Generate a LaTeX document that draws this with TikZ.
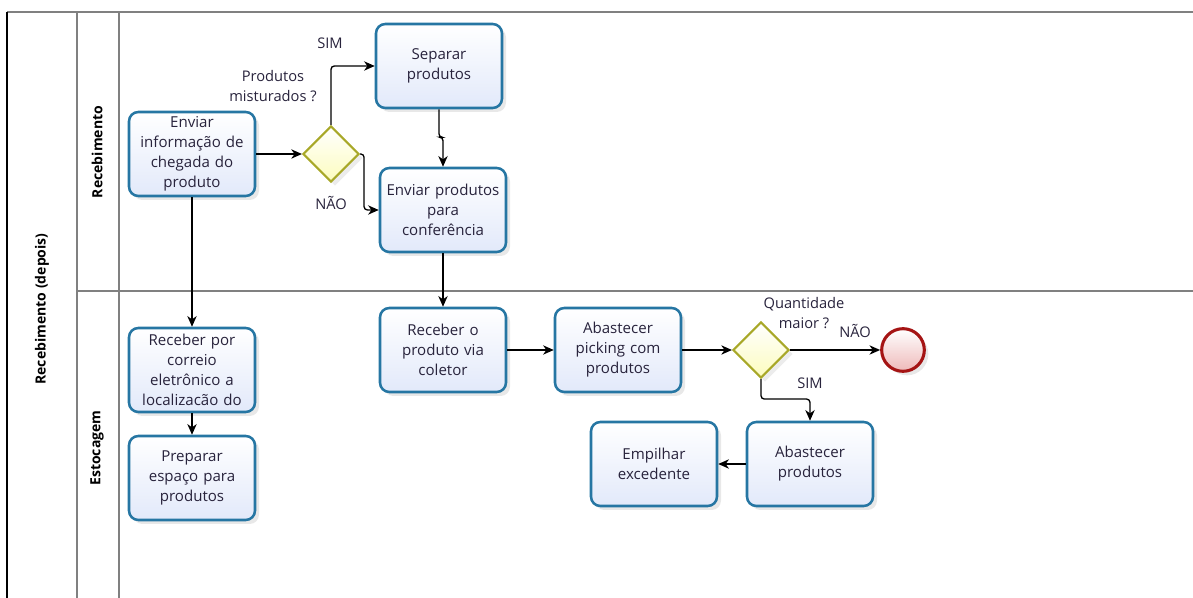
\documentclass[tikz,border=0pt]{standalone}
\usepackage{fontspec}
\setmainfont{Open Sans}
\usetikzlibrary{arrows.meta,shapes.geometric,shadows}

\definecolor{taskline}{RGB}{38,118,163}
\definecolor{taskfill}{RGB}{226,233,250}
\definecolor{gateline}{RGB}{168,168,40}
\definecolor{gatefill}{RGB}{252,252,190}
\definecolor{endline}{RGB}{165,20,20}
\definecolor{endfill}{RGB}{238,185,185}
\definecolor{laneline}{RGB}{128,128,128}
\definecolor{labeltext}{RGB}{40,35,60}

\tikzset{
  task/.style = {draw = taskline, line width = 1.9pt, rounded corners = 7pt,
    top color = white, bottom color = taskfill, minimum width = 94.5pt,
    minimum height = 63pt, text width = 88pt, align = center, inner sep = 1pt,
    font = \fontsize{11.3}{15}\selectfont, text = labeltext,
    drop shadow = {opacity = .18, shadow xshift = 3pt, shadow yshift = -3pt}},
  gateway/.style = {diamond, draw = gateline, line width = 1.6pt,
    top color = white, bottom color = gatefill, minimum width = 42pt,
    minimum height = 42pt, inner sep = 0pt,
    drop shadow = {opacity = .15, shadow xshift = 3pt, shadow yshift = -3pt}},
  endevent/.style = {circle, draw = endline, line width = 2.3pt,
    top color = white, bottom color = endfill, minimum size = 32pt, inner sep = 0pt,
    drop shadow = {opacity = .18, shadow xshift = 3pt, shadow yshift = -3pt}},
  flow/.style = {draw, line width = 1pt, rounded corners = 2.5pt,
    -{Stealth[length = 8pt, width = 7pt, inset = 2.5pt]}},
  tag/.style = {font = \fontsize{11}{15}\selectfont, text = labeltext, align = center},
  lanetitle/.style = {rotate = 90, font = \fontsize{10.5}{12}\selectfont\bfseries},
  lane/.style = {draw = laneline, line width = 1.5pt}
}

\begin{document}
\begin{tikzpicture}[x = 0.75pt, y = -0.75pt]
  \useasboundingbox (0,0) rectangle (1193,598);

  % pool and lanes
  \draw[lane] (7,12) -- (1193,12);
  \draw[line width = 1.5pt] (7,12) -- (7,598);
  \draw[lane] (77,12) -- (77,598);
  \draw[lane] (119,12) -- (119,598);
  \draw[lane] (77,291) -- (1193,291);
  \node[lanetitle] (pool) at (42,309) {Recebimento (depois)};
  \node[lanetitle] (recebimento) at (97,152) {Recebimento};
  \node[lanetitle] (estocagem) at (97,448) {Estocagem};

  % lane Recebimento
  \node[task] (info) at (192,154) {Enviar\\informação de\\chegada do\\produto};
  \node[gateway] (gw1) at (331,154) {};
  \node[task] (separar) at (439,66) {Separar\\produtos};
  \node[task] (conferencia) at (443,210) {Enviar produtos\\para\\conferência};

  % lane Estocagem
  \node[task] (correio) at (192,370) {Receber por\\correio\\eletrônico a\\localizacão do};
  \node[task] (espaco) at (192,478) {Preparar\\espaço para\\produtos};
  \node[task] (coletor) at (443,350) {Receber o\\produto via\\coletor};
  \node[task] (picking) at (618,350) {Abastecer\\picking com\\produtos};
  \node[gateway] (gw2) at (761,350) {};
  \node[endevent] (fim) at (903,350) {};
  \node[task] (abastecer) at (810,464) {Abastecer\\produtos};
  \node[task] (empilhar) at (654,464) {Empilhar\\excedente};

  % labels of the gateways
  \node[tag] (mistura) at (273,86) {Produtos\\misturados ?};
  \node[tag] (sim1) at (330,43) {SIM};
  \node[tag] (nao1) at (331,203) {NÃO};
  \node[tag] (quantidade) at (804,313) {Quantidade\\maior ?};
  \node[tag] (nao2) at (855,331) {NÃO};
  \node[tag] (sim2) at (810,383) {SIM};

  % sequence flows
  \draw[flow] (info) -- (gw1);
  \draw[flow] (gw1.north) |- (separar.west);
  \draw[flow] (gw1.east) -- ++(4,0) |- (conferencia.west);
  \draw[flow] (separar.south) -- ++(0,28) -| (conferencia.north);
  \draw[flow] (info) -- (correio);
  \draw[flow] (correio) -- (espaco);
  \draw[flow] (conferencia) -- (coletor);
  \draw[flow] (coletor) -- (picking);
  \draw[flow] (picking) -- (gw2);
  \draw[flow] (gw2) -- (fim);
  \draw[flow] (gw2.south) -- ++(0,20) -| (abastecer.north);
  \draw[flow] (abastecer) -- (empilhar);
\end{tikzpicture}
\end{document}
